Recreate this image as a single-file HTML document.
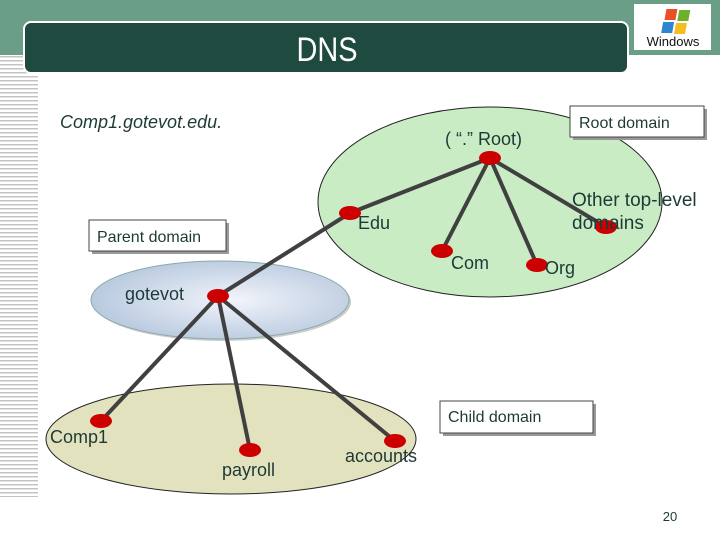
<!DOCTYPE html>
<html><head><meta charset="utf-8"><style>
body{margin:0;width:720px;height:540px;overflow:hidden;background:#fff;font-family:"Liberation Sans",sans-serif;}
</style></head><body>
<svg width="720" height="540" xmlns="http://www.w3.org/2000/svg" font-family="Liberation Sans, sans-serif">
<defs>
<pattern id="st" width="38" height="4" patternUnits="userSpaceOnUse"><rect width="38" height="4" fill="#fff"/><rect width="38" height="1.5" fill="#c4c4c4"/></pattern>
<radialGradient id="bg" cx="0.55" cy="0.5" r="0.6"><stop offset="0" stop-color="#f2f4fb"/><stop offset="1" stop-color="#b3c6dc"/></radialGradient>
</defs>
<rect x="0" y="0" width="720" height="55" fill="#6a9e86"/>
<rect x="0" y="55" width="38" height="442" fill="url(#st)"/>
<rect x="24" y="22" width="604" height="51" rx="7" fill="#1f4a40" stroke="#fff" stroke-width="2"/>
<text x="327" y="0" fill="#fff" font-size="34" text-anchor="middle" transform="translate(0,61) scale(0.85,1) translate(57.7,0)">DNS</text>
<rect x="634" y="4" width="77" height="46" fill="#fff"/>
<rect x="668" y="9" width="11" height="11" fill="#e8502a" transform="skewX(-10)"/>
<rect x="681" y="10" width="11" height="11" fill="#6cb02c" transform="skewX(-10)"/>
<rect x="667" y="22" width="11" height="11" fill="#2c86d0" transform="skewX(-10)"/>
<rect x="680" y="23" width="11" height="11" fill="#f5bd1f" transform="skewX(-10)"/>
<text x="673" y="46" font-size="13" text-anchor="middle" fill="#111">Windows</text>

<text x="60" y="128" font-size="18" font-style="italic" fill="#1e3a36">Comp1.gotevot.edu.</text>

<ellipse cx="490" cy="202" rx="172" ry="95" fill="#c9ecc5" stroke="#222" stroke-width="1"/>
<ellipse cx="222" cy="302" rx="129" ry="39" fill="#999" opacity="0.5"/>
<ellipse cx="220" cy="300" rx="129" ry="39" fill="url(#bg)" stroke="#8aa" stroke-width="1"/>
<ellipse cx="231" cy="439" rx="185" ry="55" fill="#e3e2bf" stroke="#222" stroke-width="1"/>

<g stroke="#404040" stroke-width="4" fill="none">
<line x1="490" y1="158" x2="350" y2="213"/>
<line x1="490" y1="158" x2="442" y2="251"/>
<line x1="490" y1="158" x2="537" y2="265"/>
<line x1="490" y1="158" x2="606" y2="227"/>
<line x1="350" y1="213" x2="218" y2="296"/>
<line x1="218" y1="296" x2="101" y2="421"/>
<line x1="218" y1="296" x2="250" y2="450"/>
<line x1="218" y1="296" x2="395" y2="441"/>
</g>
<g fill="#cc0000">
<ellipse cx="490" cy="158" rx="11" ry="7"/>
<ellipse cx="350" cy="213" rx="11" ry="7"/>
<ellipse cx="442" cy="251" rx="11" ry="7"/>
<ellipse cx="537" cy="265" rx="11" ry="7"/>
<ellipse cx="606" cy="227" rx="11" ry="7"/>
<ellipse cx="218" cy="296" rx="11" ry="7"/>
<ellipse cx="101" cy="421" rx="11" ry="7"/>
<ellipse cx="250" cy="450" rx="11" ry="7"/>
<ellipse cx="395" cy="441" rx="11" ry="7"/>
</g>
<g fill="#1e3a36" font-size="18">
<text x="445" y="145">( “.” Root)</text>
<text x="358" y="229">Edu</text>
<text x="451" y="269">Com</text>
<text x="545" y="274">Org</text>
<text x="572" y="206" font-size="19">Other top-level</text>
<text x="572" y="229" font-size="19">domains</text>
<text x="125" y="300">gotevot</text>
<text x="50" y="443">Comp1</text>
<text x="222" y="476">payroll</text>
<text x="345" y="462">accounts</text>
</g>
<g font-size="16" fill="#1e3a36">
<rect x="92" y="223" width="137" height="31" fill="#999"/>
<rect x="89" y="220" width="137" height="31" fill="#fff" stroke="#444"/>
<text x="97" y="242">Parent domain</text>
<rect x="573" y="109" width="134" height="31" fill="#999"/>
<rect x="570" y="106" width="134" height="31" fill="#fff" stroke="#444"/>
<text x="579" y="128">Root domain</text>
<rect x="443" y="404" width="153" height="32" fill="#999"/>
<rect x="440" y="401" width="153" height="32" fill="#fff" stroke="#444"/>
<text x="448" y="422">Child domain</text>
</g>
<text x="670" y="521" font-size="13" text-anchor="middle" fill="#1e3a36">20</text>
</svg>
</body></html>
